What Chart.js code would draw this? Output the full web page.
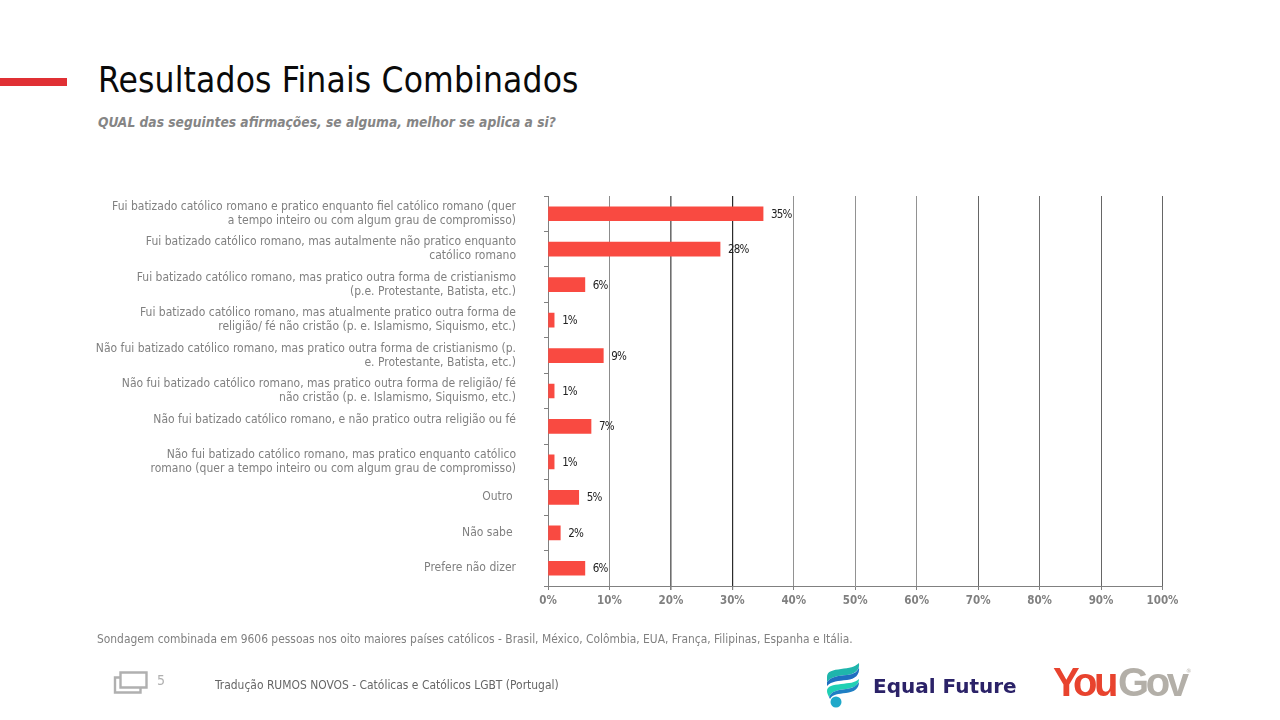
<!DOCTYPE html>
<html lang="pt">
<head>
<meta charset="utf-8">
<title>Resultados Finais Combinados</title>
<script src="https://cdn.jsdelivr.net/npm/chart.js@4"></script>
<style>
  html, body { margin: 0; padding: 0; background: #fff; }
  body { width: 1280px; height: 720px; position: relative; overflow: hidden;
         font-family: "DejaVu Sans Condensed", "DejaVu Sans", sans-serif; }
  canvas { position: absolute; left: 0; top: 0; }
  .t { position: absolute; white-space: nowrap; }
  #accent { position: absolute; left: 0; top: 78px; width: 67px; height: 8px; background: #e03034; }
  #title { left: 98px; top: 58px; font-size: 35px; line-height: 44px; letter-spacing: 0.15px; color: #0a0a0a; }
  #question { left: 98px; top: 112.5px; font-size: 13.7px; line-height: 18px; font-style: italic; font-weight: bold; color: #858585; }
  #note { left: 97px; top: 631px; font-size: 11.9px; line-height: 16px; color: #808080; }
  #page { left: 157px; top: 672px; font-size: 14px; line-height: 17px; color: #b0b0b0; }
  #credit { left: 215px; top: 677px; font-size: 11.95px; line-height: 16px; color: #666; }
  #ef { left: 873px; top: 672px; font-size: 20px; line-height: 28px; font-weight: bold; color: #2b2268; font-family: "DejaVu Sans", sans-serif; }
  #you { left: 1053px; top: 660px; font-size: 40px; line-height: 44px; font-weight: bold; letter-spacing: -3.6px; color: #e8432e; font-family: "Liberation Sans", sans-serif; }
  #gov { left: 1118px; top: 660px; font-size: 40px; line-height: 44px; font-weight: bold; letter-spacing: -3.4px; color: #b3afa8; font-family: "Liberation Sans", sans-serif; }
  #reg { left: 1186px; top: 667px; font-size: 6px; line-height: 8px; color: #b3afa8; }
  svg { position: absolute; }
</style>
</head>
<body>
<div id="accent"></div>
<div class="t" id="title">Resultados Finais Combinados</div>
<div class="t" id="question">QUAL das seguintes afirmações, se alguma, melhor se aplica a si?</div>

<canvas id="chart" width="1280" height="720"></canvas>

<div class="t" id="note">Sondagem combinada em 9606 pessoas nos oito maiores países católicos - Brasil, México, Colômbia, EUA, França, Filipinas, Espanha e Itália.</div>

<svg style="left:112px;top:669px" width="38" height="26" viewBox="0 0 38 26">
  <path d="M8.5 3.5H34.5V18.5H8.5Z M8.5 8.5H3V23.5H28.5V18.5" fill="none" stroke="#b0b0b0" stroke-width="2.4"/>
</svg>
<div class="t" id="page">5</div>
<div class="t" id="credit">Tradução RUMOS NOVOS - Católicas e Católicos LGBT (Portugal)</div>

<svg style="left:824px;top:662px" width="38" height="48" viewBox="0 0 38 48">
  <path d="M3 15C3 9 9 8 17 7C25 6 31 5 35 1C36 8 31 12 23 13C14 14 8 14 3 20Z" fill="#1fb5ac"/>
  <path d="M3 20C8 14 14 14 23 13C31 12 34 9 35 5C36 13 31 17 23 18C14 19 8 19 3 24Z" fill="#1f6fc0"/>
  <path d="M3 29C3 24 9 23 17 22C25 21 31 21 35 17C35 23 30 26 22 27C13 28 8 29 5 35C4 33 3 31 3 29Z" fill="#1fd0b4"/>
  <path d="M5 35C8 29 13 28 22 27C30 26 33 23 35 20C35 27 30 30 22 31C14 32 9 32 6 37Z" fill="#1f7fc4"/>
  <circle cx="12" cy="40" r="5.5" fill="#1fa8c9"/>
</svg>
<div class="t" id="ef">Equal Future</div>
<div class="t" id="you">You</div>
<div class="t" id="gov">Gov</div>
<div class="t" id="reg">®</div>

<script>
// Survey answers, top to bottom, as they appear on the vertical axis
const categories = [
  ["Fui batizado católico romano e pratico enquanto fiel católico romano (quer", "a tempo inteiro ou com algum grau de compromisso)"],
  ["Fui batizado católico romano, mas autalmente não pratico enquanto", "católico romano"],
  ["Fui batizado católico romano, mas pratico outra forma de cristianismo", "(p.e. Protestante, Batista, etc.)"],
  ["Fui batizado católico romano, mas atualmente pratico outra forma de", "religião/ fé não cristão (p. e. Islamismo, Siquismo, etc.)"],
  ["Não fui batizado católico romano, mas pratico outra forma de cristianismo (p.", "e. Protestante, Batista, etc.)"],
  ["Não fui batizado católico romano, mas pratico outra forma de religião/ fé", "não cristão (p. e. Islamismo, Siquismo, etc.)"],
  ["Não fui batizado católico romano, e não pratico outra religião ou fé", ""],
  ["Não fui batizado católico romano, mas pratico enquanto católico", "romano (quer a tempo inteiro ou com algum grau de compromisso)"],
  "Outro ",
  "Não sabe ",
  "Prefere não dizer"
];
const shares = [35, 28, 6, 1, 9, 1, 7, 1, 5, 2, 6];
const tickValues = [0, 10, 20, 30, 40, 50, 60, 70, 80, 90, 100];
// Gridline tone and weight for each tick of the percentage axis
const gridColors = ["#808080", "#8c8c8c", "#6e6e6e", "#2b2b2b", "#929292", "#929292", "#929292", "#666666", "#707070", "#666666", "#666666"];
const gridWidths = [1, 1, 1.6, 1.2, 1, 1, 1, 1, 1, 1, 1];

const FONT = "'DejaVu Sans Condensed', 'DejaVu Sans', sans-serif";

// Writes the percentage just past the end of each bar
const barValueLabels = {
  id: "barValueLabels",
  afterDatasetsDraw(chart) {
    const { ctx } = chart;
    const bars = chart.getDatasetMeta(0).data;
    ctx.save();
    ctx.font = "11.5px " + FONT;
    ctx.letterSpacing = "-0.9px";
    ctx.fillStyle = "#222222";
    ctx.textAlign = "left";
    ctx.textBaseline = "middle";
    bars.forEach((bar, i) => ctx.fillText(shares[i] + "%", bar.x + 8, bar.y + 1));
    ctx.restore();
  }
};

new Chart(document.getElementById("chart"), {
  type: "bar",
  data: {
    labels: categories,
    datasets: [{ data: shares, backgroundColor: "#f94a41", barThickness: 14, borderWidth: 0 }]
  },
  plugins: [barValueLabels],
  options: {
    indexAxis: "y",
    responsive: false,
    animation: false,
    events: [],
    layout: { padding: { left: 0, right: 117.5, top: 196, bottom: 0 } },
    plugins: { legend: { display: false }, tooltip: { enabled: false }, title: { display: false } },
    scales: {
      x: {
        position: "bottom",
        min: 0,
        max: 100,
        afterBuildTicks(scale) { scale.ticks = tickValues.map(value => ({ value })); },
        afterFit(scale) { scale.height = 134; },
        grid: {
          color: ctx => gridColors[ctx.index] || "#808080",
          lineWidth: ctx => gridWidths[ctx.index] || 1,
          tickLength: 4,
          tickColor: "#808080"
        },
        border: { display: true, color: "#808080", width: 1 },
        ticks: {
          color: "#808080",
          padding: 4.5,
          maxRotation: 0,
          font: { family: FONT, size: 11.5, weight: "bold" },
          callback: value => value + "%"
        }
      },
      y: {
        position: "left",
        afterFit(scale) { scale.width = 548; },
        grid: { drawOnChartArea: false, offset: true, tickLength: 4, color: "#808080" },
        border: { display: true, color: "#808080", width: 1 },
        ticks: {
          autoSkip: false,
          color: "#808080",
          padding: 28,
          font: { family: FONT, size: 12, lineHeight: 1.17 }
        }
      }
    }
  }
});
</script>
</body>
</html>
